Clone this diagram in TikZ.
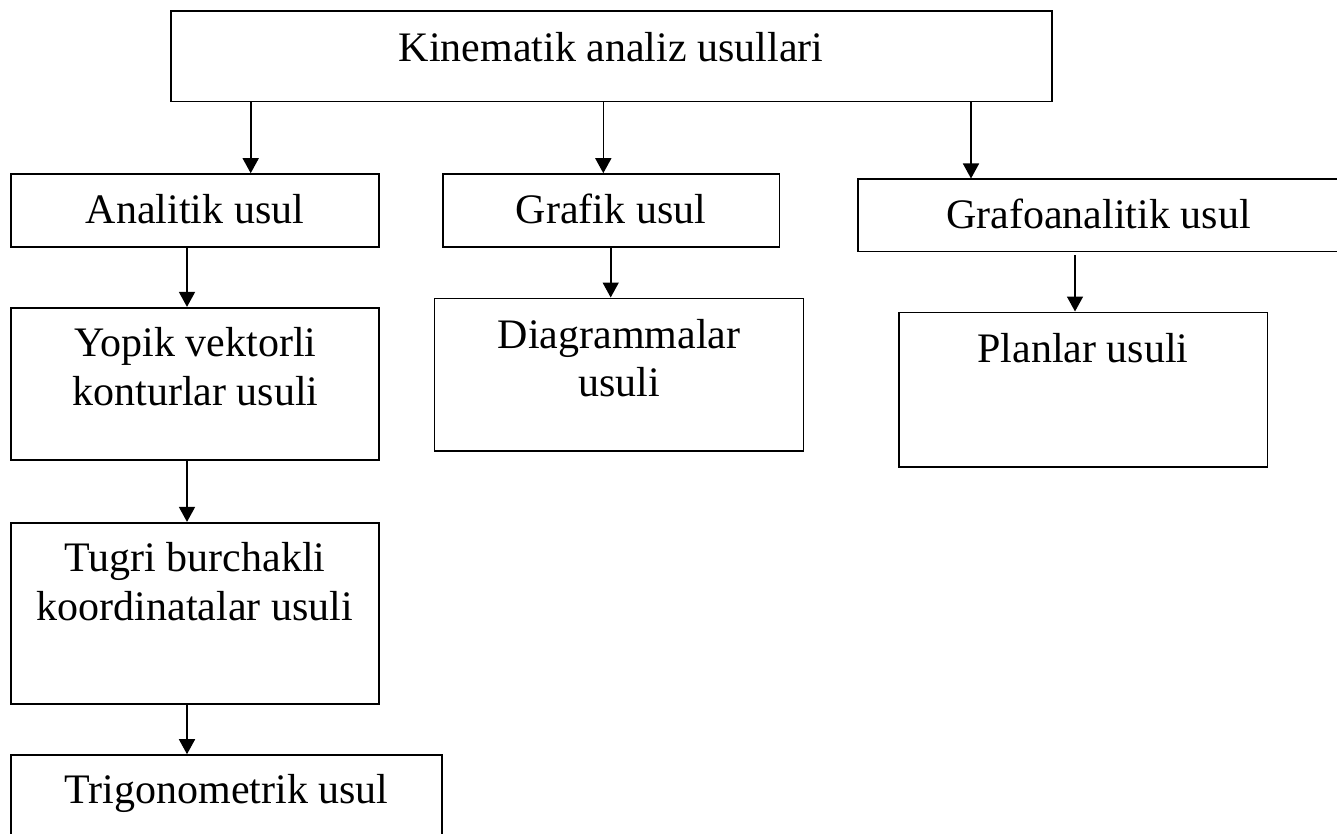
\documentclass[tikz,border=0pt]{standalone}
\usepackage{fontspec}
\setmainfont{Liberation Serif}
\usetikzlibrary{fit,arrows.meta}
\begin{document}
\begin{tikzpicture}[x=1pt,y=-1pt,
  box/.style={draw=black,line width=1.6pt,inner sep=0pt,rectangle},
  txt/.style={font=\fontsize{42}{48}\selectfont,inner sep=0pt,anchor=base},
  arr/.style={line width=1.6pt,-{Triangle[length=15pt,width=16pt]}}]
\useasboundingbox (0,0) rectangle (1337,834);
\clip (0,0) rectangle (1337,834);
\fill[white] (0,0) rectangle (1337,834);
% boxes
\node[box,fit={(170.7,11) (1051.7,101.7)}] (top) {};
\node[box,fit={(10.7,174) (379,247)}] (ana) {};
\node[box,fit={(442.7,174) (779.3,247)}] (graf) {};
\node[box,fit={(858,179.3) (1345,251.5)}] (grafo) {};
\node[box,fit={(10.7,307.7) (379,460)}] (yopik) {};
\node[box,fit={(434.3,298.3) (803.3,450.7)}] (diag) {};
\node[box,fit={(899,312.3) (1267.3,466.7)}] (plan) {};
\node[box,fit={(10.7,522.7) (379,704)}] (tugri) {};
\node[box,fit={(10.7,755) (442,850)}] (trig) {};
% texts
\node[txt] (ttop) at (611,62) {Kinematik analiz usullari};
\node[txt] (tana) at (195,224) {Analitik usul};
\node[txt] (tgraf) at (611,224) {Grafik usul};
\node[txt] (tgrafo) at (1098.5,229) {Grafoanalitik usul};
\node[txt] (tyop1) at (195.5,356.7) {Yopik vektorli};
\node[txt] (tyop2) at (195.5,405) {konturlar usuli};
\node[txt] (tdia1) at (619,348.3) {Diagrammalar};
\node[txt] (tdia2) at (619,396) {usuli};
\node[txt] (tplan) at (1083,362.7) {Planlar usuli};
\node[txt] (ttug1) at (195,571.7) {Tugri burchakli};
\node[txt] (ttug2) at (195,620) {koordinatalar usuli};
\node[txt] (ttrig) at (226.5,803.3) {Trigonometrik usul};
% arrows
\draw[arr] (top.south -| 250.7,0) -- (ana.north -| 250.7,0);
\draw[arr] (top.south -| 603.3,0) -- (graf.north -| 603.3,0);
\draw[arr] (top.south -| 971,0) -- (grafo.north -| 971,0);
\draw[arr] (ana.south -| 187,0) -- (yopik.north -| 187,0);
\draw[arr] (graf.south -| 610.7,0) -- (diag.north -| 610.7,0);
\draw[arr] ([yshift=-3pt]grafo.south -| 1075,0) -- (plan.north -| 1075,0);
\draw[arr] (yopik.south -| 187,0) -- (tugri.north -| 187,0);
\draw[arr] (tugri.south -| 187,0) -- (trig.north -| 187,0);
\end{tikzpicture}
\end{document}
